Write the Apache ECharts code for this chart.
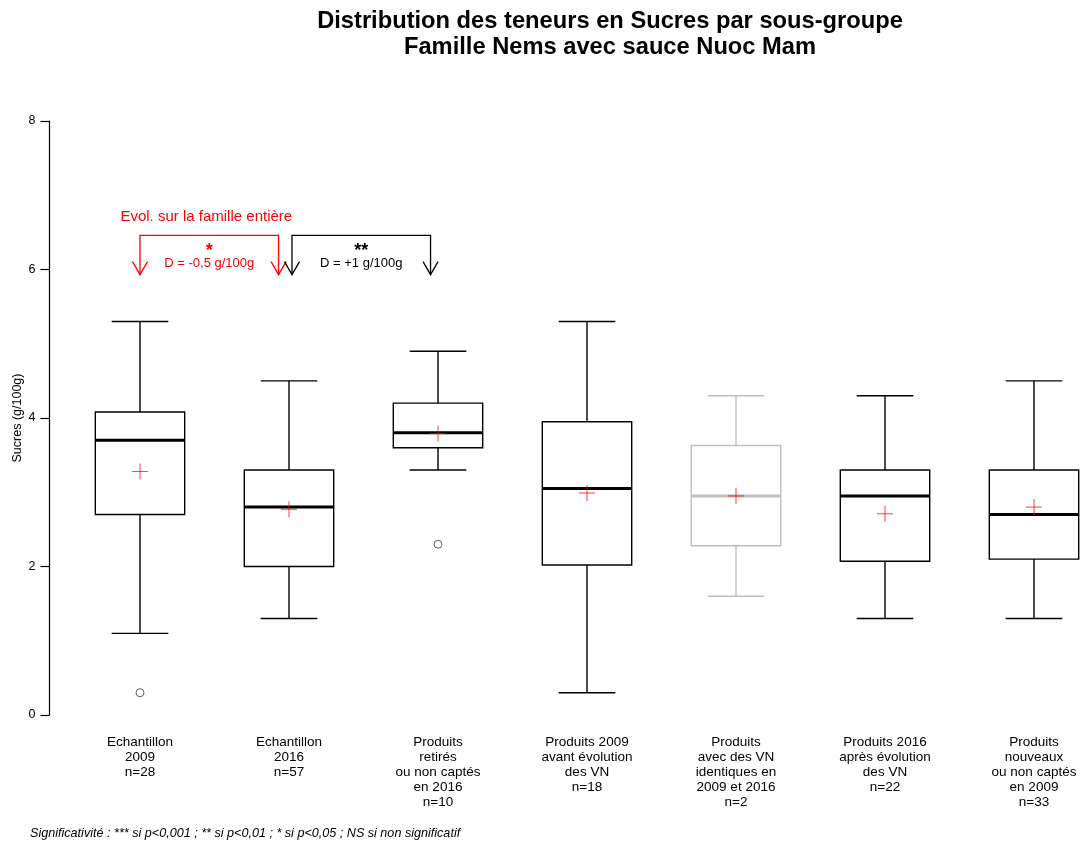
<!DOCTYPE html>
<html>
<head>
<meta charset="utf-8">
<script src="https://cdn.jsdelivr.net/npm/echarts@6/dist/echarts.min.js"></script>
<style>
  html, body { margin: 0; background: #fff; }
  #main { width: 1080px; height: 845px; }
</style>
</head>
<body>
<div id="main"></div>
<script>
// sub-groups and their sizes
const groups = [
  'Echantillon\n2009',
  'Echantillon\n2016',
  'Produits\nretirés\nou non captés\nen 2016',
  'Produits 2009\navant évolution\ndes VN',
  'Produits\navec des VN\nidentiques en\n2009 et 2016',
  'Produits 2016\naprès évolution\ndes VN',
  'Produits\nnouveaux\nou non captés\nen 2009'
];
const counts = [28, 57, 10, 18, 2, 22, 33];

// box statistics (g/100g)
const whiskerLow  = [1.1, 1.3, 3.3, 0.3, 1.6, 1.3, 1.3];
const q1          = [2.7, 2.0, 3.6, 2.02, 2.28, 2.07, 2.1];
const median      = [3.7, 2.8, 3.8, 3.05, 2.95, 2.95, 2.7];
const q3          = [4.08, 3.3, 4.2, 3.95, 3.63, 3.3, 3.3];
const whiskerHigh = [5.3, 4.5, 4.9, 5.3, 4.3, 4.3, 4.5];
const means       = [3.28, 2.77, 3.79, 2.99, 2.95, 2.71, 2.8];

const outlierGroup = [0, 2];
const outlierValue = [0.3, 2.3];

const yTicks = [0, 2, 4, 6, 8];

// significance brackets (group positions)
const bracketFrom  = [0, 1.02];
const bracketTo    = [0.93, 1.95];
const bracketStars = ['*', '**'];
const bracketDiffs = ['D = -0,5 g/100g', 'D = +1 g/100g'];
const bracketHeads = ['Evol. sur la famille entière', ''];

const FONT = "'Liberation Sans', Arial, sans-serif";
const bracketColors = ['#ff0000', '#000000'];
const bracketLevel = 6.46, bracketTip = 5.93;

const chart = echarts.init(document.getElementById('main'));

function renderBox(params, api) {
  const i = api.value(0);
  const x = api.coord([i, 0])[0];
  const band = api.size([1, 0])[0];
  const half = band * 0.3, cap = band * 0.19;
  const yLo = api.coord([i, api.value(1)])[1];
  const yQ1 = api.coord([i, api.value(2)])[1];
  const yMed = api.coord([i, api.value(3)])[1];
  const yQ3 = api.coord([i, api.value(4)])[1];
  const yHi = api.coord([i, api.value(5)])[1];
  const color = counts[i] < 3 ? '#bebebe' : '#000';
  const line = (x1, y1, x2, y2, w) => ({
    type: 'line', shape: { x1, y1, x2, y2 }, style: { stroke: color, lineWidth: w }
  });
  return {
    type: 'group',
    children: [
      line(x, yHi, x, yQ3, 1.4),
      line(x, yQ1, x, yLo, 1.4),
      line(x - cap, yHi, x + cap, yHi, 1.4),
      line(x - cap, yLo, x + cap, yLo, 1.4),
      { type: 'rect', shape: { x: x - half, y: yQ3, width: 2 * half, height: yQ1 - yQ3 },
        style: { fill: '#fff', stroke: color, lineWidth: 1.4 } },
      line(x - half, yMed, x + half, yMed, 3)
    ]
  };
}

function renderBracket(params, api) {
  const k = params.dataIndex;
  const base = api.coord([0, 0])[0];
  const band = api.size([1, 0])[0];
  const xa = base + api.value(0) * band;
  const xb = base + api.value(1) * band;
  const yTop = api.coord([0, bracketLevel])[1];
  const yTip = api.coord([0, bracketTip])[1];
  const c = bracketColors[k];
  const mid = (xa + xb) / 2;
  const head = (x) => ({
    type: 'polyline', shape: { points: [[x - 7.5, yTip - 13], [x, yTip], [x + 7.5, yTip - 13]] },
    style: { stroke: c, lineWidth: 1.3, fill: null }
  });
  const children = [
    { type: 'polyline', shape: { points: [[xa, yTip], [xa, yTop], [xb, yTop], [xb, yTip]] },
      style: { stroke: c, lineWidth: 1.3, fill: null } },
    head(xa), head(xb),
    { type: 'text', style: { text: bracketStars[k], x: mid, y: yTop + 16, fill: c,
      font: 'bold 18px ' + FONT, align: 'center', verticalAlign: 'middle' } },
    { type: 'text', style: { text: bracketDiffs[k], x: mid, y: yTop + 28, fill: c,
      font: '13px ' + FONT, align: 'center', verticalAlign: 'middle' } }
  ];
  if (bracketHeads[k]) {
    children.push({ type: 'text', style: { text: bracketHeads[k], x: mid - 3, y: yTop - 18, fill: c,
      font: '15px ' + FONT, align: 'center', verticalAlign: 'middle' } });
  }
  return { type: 'group', children };
}

const option = {
  animation: false,
  backgroundColor: '#fff',
  textStyle: { fontFamily: FONT },
  graphic: [
    { type: 'text', x: 610, y: 21, style: { text: 'Distribution des teneurs en Sucres par sous-groupe',
      font: 'bold 23.7px ' + FONT, fill: '#000', align: 'center', verticalAlign: 'middle' } },
    { type: 'text', x: 610, y: 47, style: { text: 'Famille Nems avec sauce Nuoc Mam',
      font: 'bold 23.7px ' + FONT, fill: '#000', align: 'center', verticalAlign: 'middle' } },
    { type: 'text', x: 30, y: 833, style: {
      text: 'Significativité : *** si p<0,001 ; ** si p<0,01 ; * si p<0,05 ; NS si non significatif',
      font: 'italic 12.6px ' + FONT, fill: '#000', align: 'left', verticalAlign: 'middle' } }
  ],
  grid: { left: 140, right: 46, top: 121, bottom: 130, containLabel: false, outerBoundsMode: 'none' },
  xAxis: {
    type: 'category',
    data: groups,
    boundaryGap: false,
    axisLine: { show: false },
    axisTick: { show: false },
    axisLabel: {
      interval: 0, margin: 20, color: '#000', fontSize: 13.5, lineHeight: 15,
      formatter: (v, i) => v + '\nn=' + counts[i]
    }
  },
  yAxis: {
    type: 'value',
    min: yTicks[0], max: yTicks[yTicks.length - 1], interval: yTicks[1] - yTicks[0],
    offset: 90.5,
    name: 'Sucres (g/100g)', nameLocation: 'middle', nameGap: 25, nameRotate: 90,
    nameMoveOverlap: false,
    nameTextStyle: { color: '#000', fontSize: 12.5 },
    axisLine: { show: true, lineStyle: { color: '#000', width: 1.2 } },
    axisTick: { show: true, length: 9, lineStyle: { color: '#000', width: 1.2 } },
    axisLabel: { color: '#000', fontSize: 12.5, margin: 14 },
    splitLine: { show: false }
  },
  series: [
    {
      type: 'custom',
      renderItem: renderBox,
      encode: { x: 0, y: [1, 2, 3, 4, 5] },
      data: groups.map((g, i) => [i, whiskerLow[i], q1[i], median[i], q3[i], whiskerHigh[i]]),
      z: 2
    },
    {
      type: 'scatter',
      symbol: 'path://M0,8L16,8M8,0L8,16',
      symbolSize: 16,
      itemStyle: { color: 'none', borderColor: '#ff0000', borderWidth: 1, opacity: 0.75 },
      data: means.map((m, i) => [i, m]),
      z: 3
    },
    {
      type: 'scatter',
      symbol: 'circle',
      symbolSize: 8,
      itemStyle: { color: '#fff', borderColor: '#333', borderWidth: 1 },
      data: outlierGroup.map((g, i) => [g, outlierValue[i]]),
      z: 3
    },
    {
      type: 'custom',
      renderItem: renderBracket,
      encode: { x: [0, 1] },
      data: bracketFrom.map((f, i) => [f, bracketTo[i]]),
      z: 4,
      silent: true
    }
  ]
};

chart.setOption(option);
</script>
</body>
</html>
